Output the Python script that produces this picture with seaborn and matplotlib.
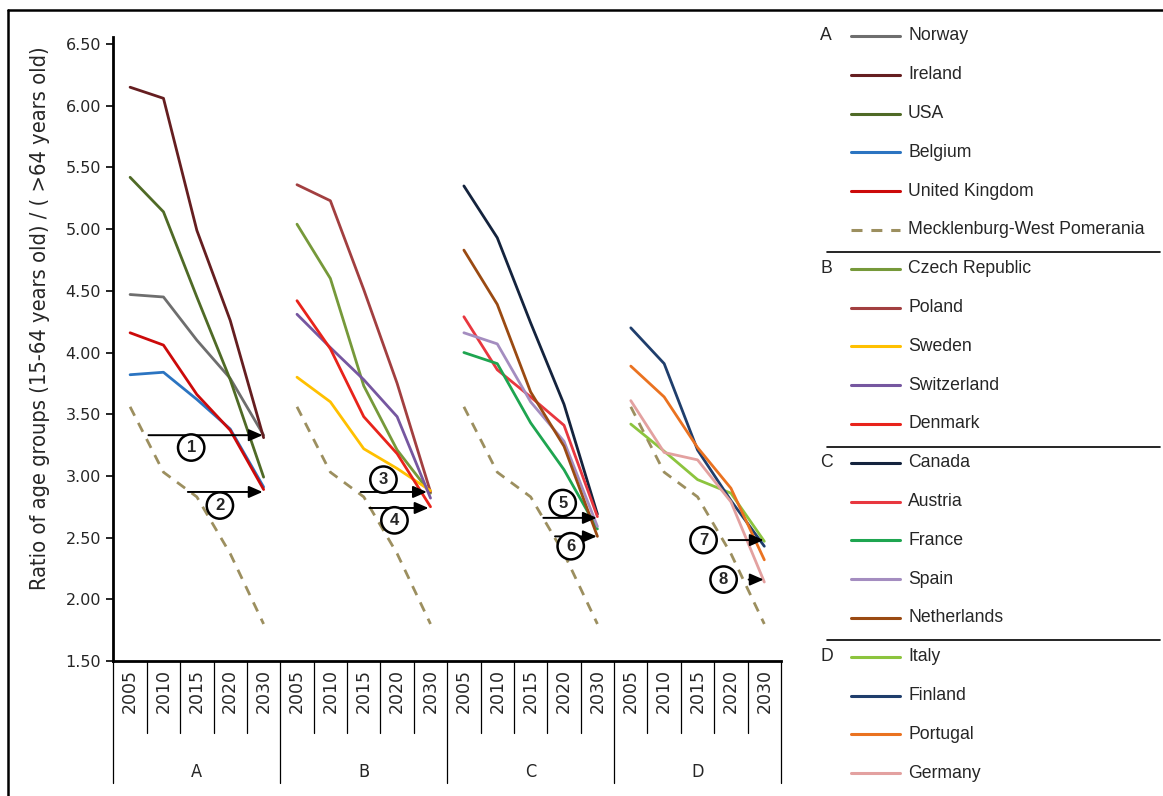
import pandas as pd
import seaborn as sns
import matplotlib.pyplot as plt
from matplotlib.lines import Line2D
import matplotlib.transforms as mtransforms
from matplotlib import font_manager

# data
years = ['2005', '2010', '2015', '2020', '2030']
groups = ['A', 'B', 'C', 'D']

norway = [4.47, 4.45, 4.10, 3.79, 3.33]
ireland = [6.15, 6.06, 4.99, 4.26, 3.31]
usa = [5.42, 5.14, 4.45, 3.78, 2.99]
belgium = [3.82, 3.84, 3.62, 3.38, 2.91]
uk = [4.16, 4.06, 3.66, 3.37, 2.89]
mecklenburg = [3.56, 3.03, 2.83, 2.37, 1.80]
czech = [5.04, 4.60, 3.73, 3.21, 2.86]
poland = [5.36, 5.23, 4.51, 3.75, 2.87]
sweden = [3.80, 3.60, 3.22, 3.06, 2.88]
switzerland = [4.31, 4.04, 3.78, 3.48, 2.82]
denmark = [4.42, 4.03, 3.48, 3.18, 2.75]
canada = [5.35, 4.93, 4.24, 3.58, 2.69]
austria = [4.29, 3.86, 3.64, 3.41, 2.67]
france = [4.00, 3.91, 3.43, 3.05, 2.57]
spain = [4.16, 4.07, 3.60, 3.28, 2.59]
netherlands = [4.83, 4.39, 3.68, 3.24, 2.51]
italy = [3.42, 3.20, 2.97, 2.86, 2.47]
finland = [4.20, 3.91, 3.21, 2.80, 2.43]
portugal = [3.89, 3.64, 3.23, 2.90, 2.32]
germany = [3.61, 3.19, 3.13, 2.79, 2.14]

MWP = 'Mecklenburg-West Pomerania'
members = {
    'A': [('Norway', norway), ('Ireland', ireland), ('USA', usa), ('Belgium', belgium),
          ('United Kingdom', uk), (MWP, mecklenburg)],
    'B': [('Czech Republic', czech), ('Poland', poland), ('Sweden', sweden),
          ('Switzerland', switzerland), ('Denmark', denmark)],
    'C': [('Canada', canada), ('Austria', austria), ('France', france), ('Spain', spain),
          ('Netherlands', netherlands)],
    'D': [('Italy', italy), ('Finland', finland), ('Portugal', portugal), ('Germany', germany)],
}

colors = {
    'Norway': '#6e6e6e', 'Ireland': '#651e20', 'USA': '#4f6a26', 'Belgium': '#2b74c1',
    'United Kingdom': '#cc0a0a', MWP: '#9c8f5f',
    'Czech Republic': '#76993a', 'Poland': '#a23f40', 'Sweden': '#ffc000',
    'Switzerland': '#7657a0', 'Denmark': '#e8231b',
    'Canada': '#14233d', 'Austria': '#e8373f', 'France': '#1ea550', 'Spain': '#a48dc0',
    'Netherlands': '#9a4a12',
    'Italy': '#8cc43e', 'Finland': '#1f3e6c', 'Portugal': '#ea7220', 'Germany': '#e3a1a0',
}

# long table: mecklenburg is repeated as reference in each group
rows = []
for gi, g in enumerate(groups):
    lst = members[g] if g == 'A' else members[g] + [(MWP, mecklenburg)]
    for name, vals in lst:
        for j, v in enumerate(vals):
            rows.append({'pos': gi * 5 + j, 'ratio': v, 'country': name, 'segment': name + g})
df = pd.DataFrame(rows)

sns.set_style('white')
plt.rcParams['font.family'] = ['DejaVu Sans']

# a narrow face for the axis title if one is around
installed = {f.name for f in font_manager.fontManager.ttflist}
narrow = 'Liberation Sans Narrow' if 'Liberation Sans Narrow' in installed else 'DejaVu Sans'

fig = plt.figure(figsize=(11.63, 7.96), dpi=100)
ax = fig.add_axes([113.4 / 1163, 135 / 796, (781 - 113.4) / 1163, 624 / 796])

order = [MWP] + [c for c in colors if c != MWP]
dash_map = {c: '' for c in order}
dash_map[MWP] = (3.6, 2.9)
sns.lineplot(data=df, x='pos', y='ratio', hue='country', style='country', units='segment',
             estimator=None, palette=colors, hue_order=order, style_order=order,
             dashes=dash_map, linewidth=2.0, legend=False, sort=False, ax=ax)

ax.set_xlim(-0.5, 19.5)
ax.set_ylim(1.5, 6.557)
ax.set_yticks([1.5, 2.0, 2.5, 3.0, 3.5, 4.0, 4.5, 5.0, 5.5, 6.0, 6.5])
ax.set_yticklabels([f'{v:.2f}' for v in ax.get_yticks()], fontsize=11.5)
ax.tick_params(axis='y', direction='out', length=5, width=1.4, left=True, pad=4)
ax.set_xticks(range(20))
ax.set_xticklabels(years * 4, rotation=90, fontsize=12.5, va='top')
ax.tick_params(axis='x', length=0, pad=6)
ax.set_xlabel('')
ax.set_ylabel('')
for s in ['top', 'right']:
    ax.spines[s].set_visible(False)
for s in ['left', 'bottom']:
    ax.spines[s].set_linewidth(2.0)
    ax.spines[s].set_color('black')
ax.grid(False)

# category separators under the axis
trans = mtransforms.blended_transform_factory(ax.transData, ax.transAxes)
for i in range(21):
    xs = i - 0.5
    y_end = -0.1955 if i % 5 == 0 else -0.1154
    ax.add_line(Line2D([xs, xs], [0, y_end], transform=trans, color='black', lw=0.9,
                       clip_on=False))
for gi, g in enumerate(groups):
    ax.text(gi * 5 + 2, -0.178, g, transform=trans, ha='center', va='center', fontsize=13,
            family=narrow, stretch='condensed')

fig.text(40 / 1163, 1 - 318 / 796, 'Ratio of age groups (15-64 years old) / ( >64 years old)',
         rotation=90, ha='center', va='center', fontsize=17.5 if narrow != 'DejaVu Sans' else 15.7,
         family=narrow, stretch='condensed')

# numbered arrows
arrows = [
    ('1', 0.55, 3.97, 3.33, 1.83, 3.23),
    ('2', 1.73, 3.97, 2.87, 2.69, 2.76),
    ('3', 6.91, 8.89, 2.87, 7.59, 2.97),
    ('4', 7.17, 8.94, 2.74, 7.92, 2.64),
    ('5', 12.38, 13.98, 2.66, 12.96, 2.78),
    ('6', 12.73, 13.98, 2.51, 13.20, 2.43),
    ('7', 17.93, 18.98, 2.48, 17.18, 2.48),
    ('8', 18.53, 18.98, 2.16, 17.78, 2.16),
]
for num, x0, x1, yv, tx, ty in arrows:
    ax.annotate('', xy=(x1, yv), xytext=(x0, yv),
                arrowprops=dict(arrowstyle='-|>,head_length=0.55,head_width=0.24',
                                color='black', lw=1.4, shrinkA=0, shrinkB=0,
                                mutation_scale=15), zorder=5)
    ax.text(tx, ty, num, ha='center', va='center', fontsize=12, fontweight='bold',
            family='Liberation Sans', zorder=6,
            bbox=dict(boxstyle='circle,pad=0.34', fc='white', ec='black', lw=1.8))

# legend built by hand on the right
legend_groups = {0: 'A', 6: 'B', 11: 'C', 16: 'D'}
legend_names = [n for g in groups for n, _ in members[g]]
W, H = 1163, 796
for k, name in enumerate(legend_names):
    yp = 36 + k * 38.8
    fy = 1 - yp / H
    ls = (0, (3.6, 2.9)) if name == MWP else '-'
    fig.add_artist(Line2D([851 / W, 900 / W], [fy, fy], color=colors[name], lw=2.2,
                          linestyle=ls))
    fig.text(908 / W, fy, name, ha='left', va='center', fontsize=12.7, family='Liberation Sans')
    if k in legend_groups:
        fig.text(820 / W, fy, legend_groups[k], ha='left', va='center', fontsize=12.7,
                 family='Liberation Sans')
for yp in [252, 446.5, 640]:
    fy = 1 - yp / H
    fig.add_artist(Line2D([827 / W, 1160 / W], [fy, fy], color='black', lw=1.2))

# outer frame (top and left)
fig.add_artist(Line2D([8 / W, 1.0], [1 - 10 / H, 1 - 10 / H], color='black', lw=1.8))
fig.add_artist(Line2D([8 / W, 8 / W], [0, 1 - 10 / H], color='black', lw=1.8))

fig.savefig('out.png', dpi=100)
